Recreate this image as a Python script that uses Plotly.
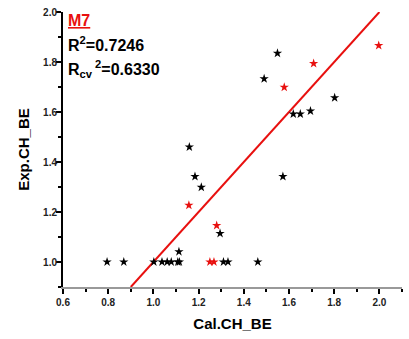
import plotly.graph_objects as go

# Training set (black)
train_x = [0.795, 0.869, 1.002, 1.038, 1.061, 1.079, 1.108, 1.115, 1.113, 1.159, 1.184, 1.212,
           1.295, 1.310, 1.330, 1.462, 1.490, 1.549, 1.573, 1.619, 1.650, 1.695, 1.802]
train_y = [1.0, 1.0, 1.0, 1.0, 1.0, 1.0, 1.0, 1.0, 1.041, 1.460, 1.342, 1.299,
           1.114, 1.0, 1.0, 1.0, 1.733, 1.835, 1.342, 1.592, 1.592, 1.604, 1.657]
# Test set (red)
test_x = [1.157, 1.250, 1.268, 1.280, 1.579, 1.709, 1.997]
test_y = [1.227, 1.0, 1.0, 1.146, 1.699, 1.794, 1.866]
# Fit line
line_x = [0.9, 2.0]
line_y = [0.9, 2.0]

font = "Liberation Sans, Arial, sans-serif"

fig = go.Figure()
fig.add_trace(go.Scatter(x=line_x, y=line_y, mode="lines",
                         line=dict(color="#e8100f", width=2), showlegend=False))
fig.add_trace(go.Scatter(x=train_x, y=train_y, mode="markers",
                         marker=dict(symbol="star", size=7, color="black"), showlegend=False))
fig.add_trace(go.Scatter(x=test_x, y=test_y, mode="markers",
                         marker=dict(symbol="star", size=7, color="#e8100f"), showlegend=False))

fig.update_layout(
    width=409, height=339,
    margin=dict(l=63, r=7, t=12, b=52),
    plot_bgcolor="white", paper_bgcolor="white",
    font=dict(family=font, color="black"),
    xaxis=dict(range=[0.6, 2.1], tick0=0.6, dtick=0.2, tickformat=".1f",
               showgrid=False, zeroline=False, showline=True, linecolor="#999999", linewidth=1.5,
               ticks="outside", ticklen=5, tickwidth=1.5, tickcolor="black",
               minor=dict(dtick=0.1, tick0=0.6, ticks="outside", ticklen=3, tickwidth=1.5, tickcolor="black"),
               tickfont=dict(size=10, family=font, color="#222222", weight="bold"),
               title=dict(text="<b>Cal.CH_BE</b>", font=dict(size=15, family=font), standoff=12)),
    yaxis=dict(range=[0.9, 2.0001], tick0=1.0, dtick=0.2, tickformat=".1f",
               showgrid=False, zeroline=False, showline=True, linecolor="black", linewidth=2,
               ticks="outside", ticklen=5, tickwidth=1.5, tickcolor="black",
               ticklabelstandoff=-3,
               minor=dict(dtick=0.1, tick0=1.0, ticks="outside", ticklen=3, tickwidth=1.5, tickcolor="black"),
               tickfont=dict(size=10, family=font, color="#222222", weight="bold"),
               title=dict(text="<b>Exp.CH_BE</b>", font=dict(size=15, family=font), standoff=10)),
)

fig.add_annotation(x=0, y=1, xref="paper", yref="paper", xanchor="left", yanchor="top",
                   xshift=3, yshift=2, showarrow=False,
                   text="<b><u>M7</u></b>", font=dict(size=16, color="#e8100f", family=font))
fig.add_annotation(x=0, y=1, xref="paper", yref="paper", xanchor="left", yanchor="top",
                   xshift=3, yshift=-20, showarrow=False,
                   text="<b>R<sup>2</sup>=0.7246</b>", font=dict(size=16, color="black", family=font))
fig.add_annotation(x=0, y=1, xref="paper", yref="paper", xanchor="left", yanchor="top",
                   xshift=3, yshift=-44, showarrow=False,
                   text="<b>R<sub>cv</sub><sup> 2</sup>=0.6330</b>", font=dict(size=16, color="black", family=font))

fig.write_html("out.html", config={"displayModeBar": False},
               post_script="document.body.style.margin='0';")
